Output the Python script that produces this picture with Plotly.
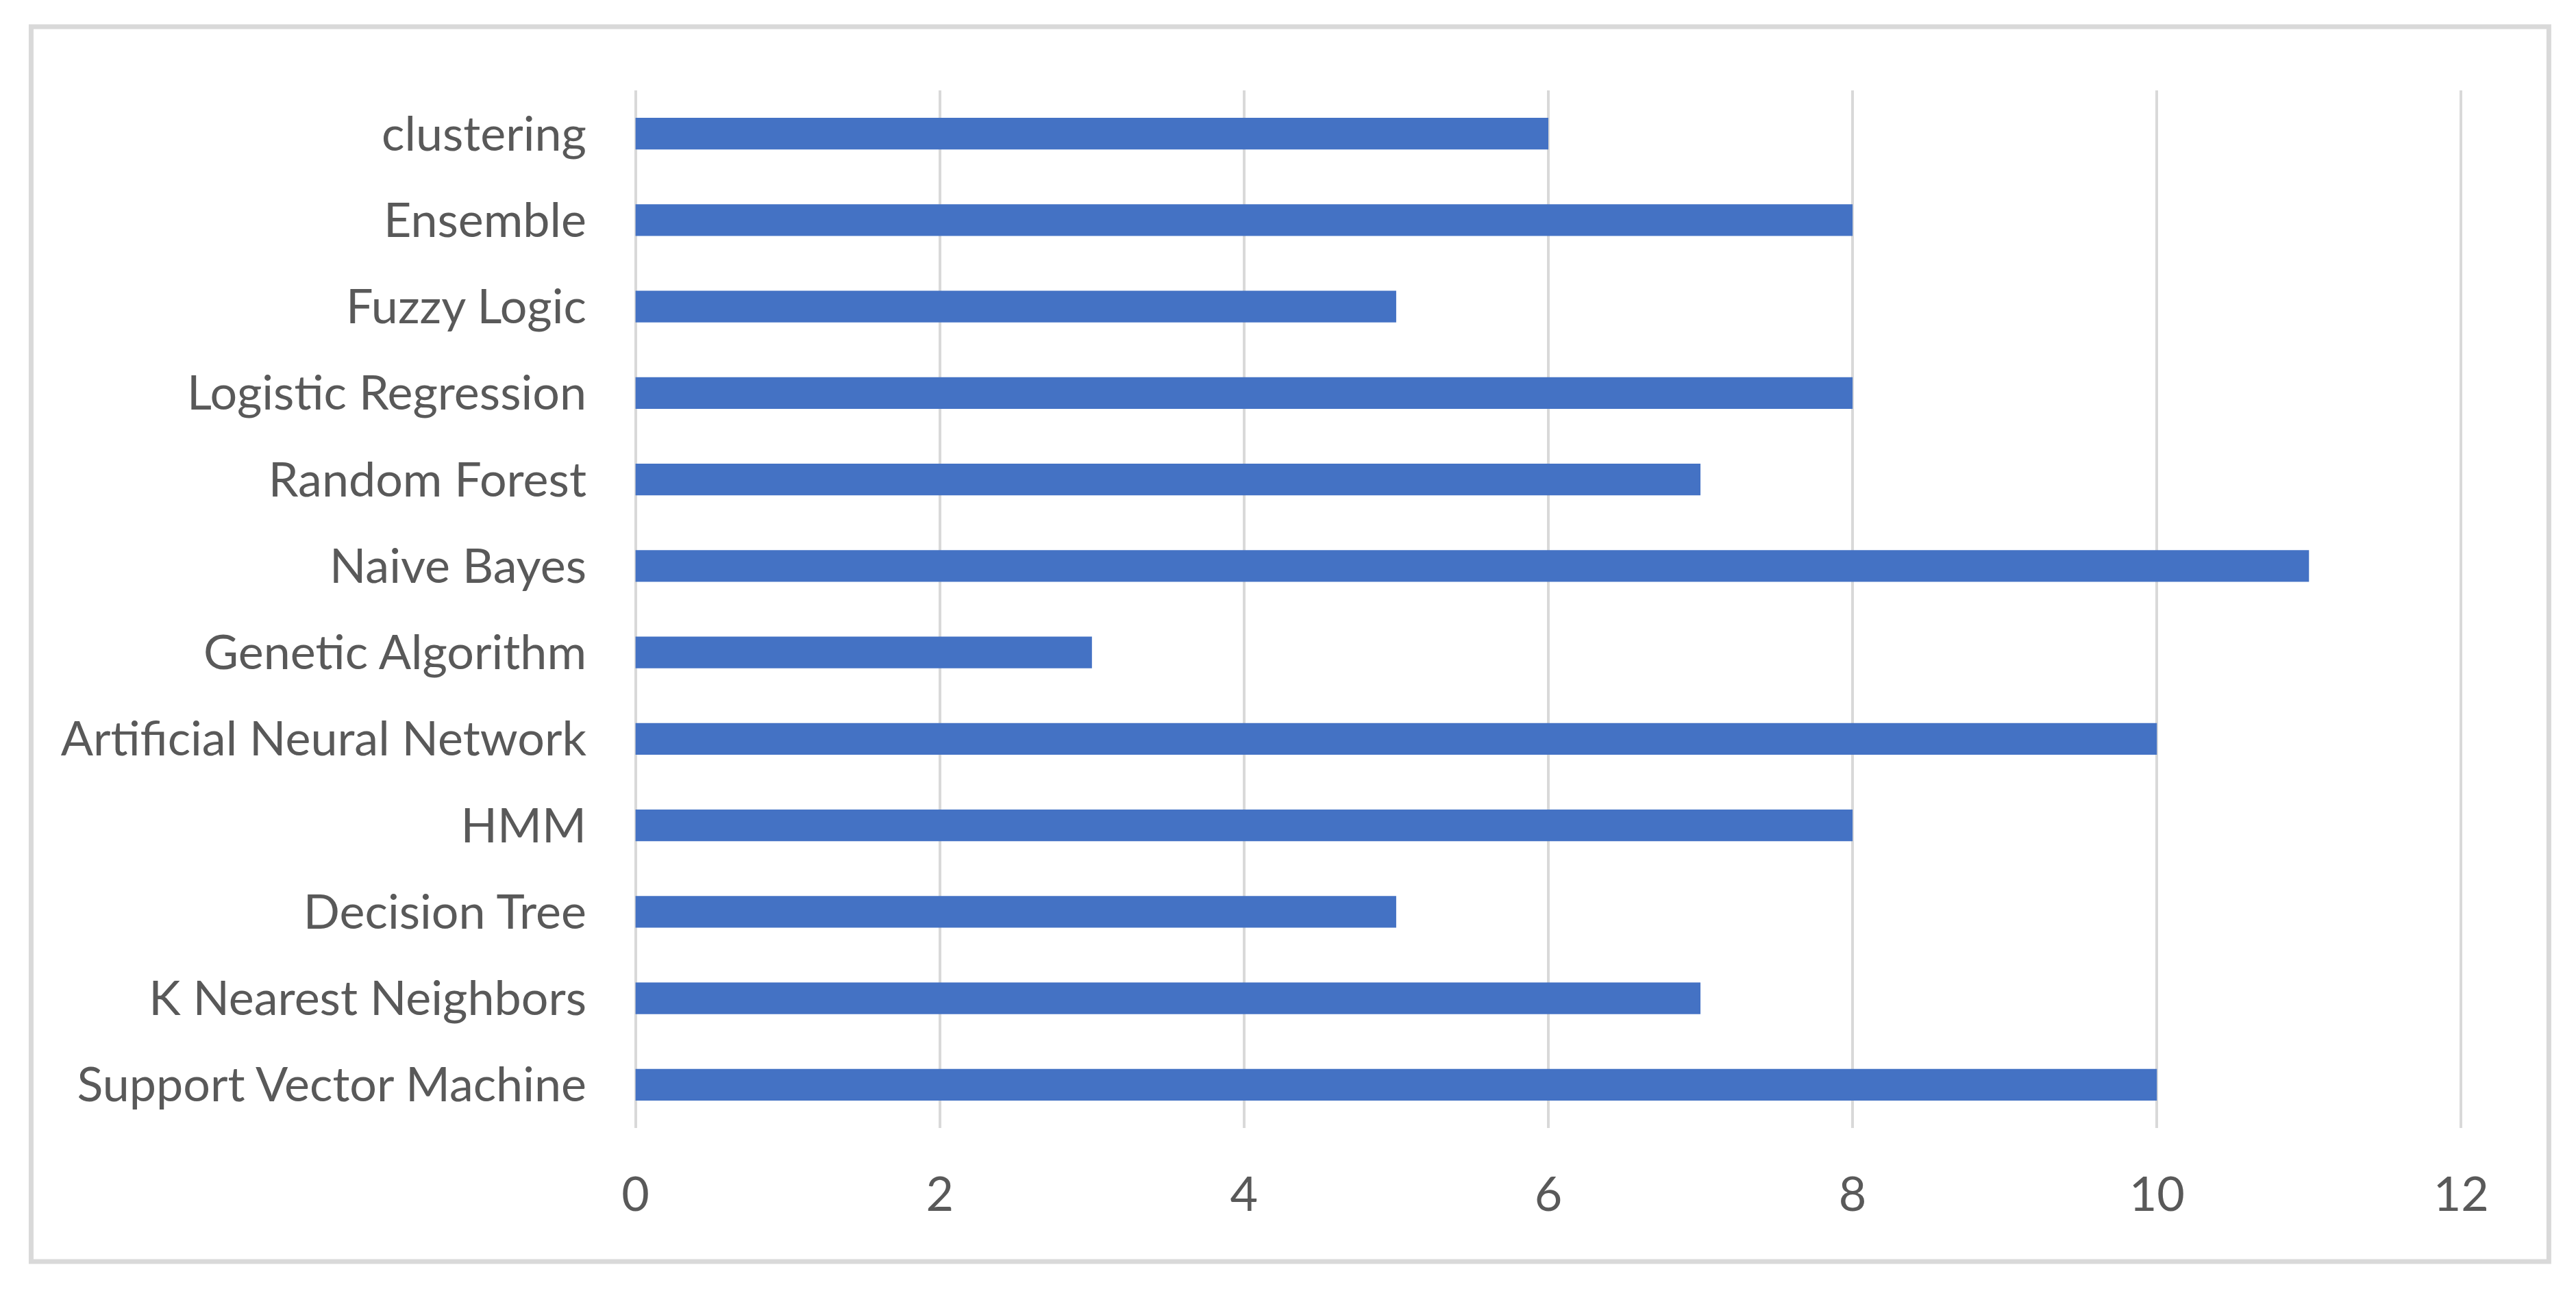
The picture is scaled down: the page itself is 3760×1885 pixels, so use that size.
import plotly.graph_objects as go

categories = ["Support Vector Machine", "K Nearest Neighbors", "Decision Tree", "HMM",
              "Artificial Neural Network", "Genetic Algorithm", "Naive Bayes", "Random Forest",
              "Logistic Regression", "Fuzzy Logic", "Ensemble", "clustering"]
values = [10, 7, 5, 8, 10, 3, 11, 7, 8, 5, 8, 6]
x_ticks = [0, 2, 4, 6, 8, 10, 12]

W, H = 3760, 1885
OFF = 8  # page body margin
X0PX, X12PX = 928 - OFF, 3592 - OFF
T, B = 132 - OFF, 1647 - OFF
PAD = 0.03
upx = (X12PX - X0PX) / 12.0
L = X0PX - PAD * upx
R = X12PX + PAD * upx

fig = go.Figure(go.Bar(
    x=values, y=categories, orientation="h",
    marker=dict(color="#4472C4", line=dict(width=0)),
))

def px_x(p):
    return (p - OFF - L) / (R - L)

def px_y(p):
    return (B - (p - OFF)) / (B - T)

fig.update_layout(
    width=W, height=H,
    margin=dict(l=L, r=W - R, t=T, b=H - B, pad=0),
    paper_bgcolor="white", plot_bgcolor="white",
    bargap=0.635,
    showlegend=False,
    font=dict(family="Lato", color="#595959", size=70),
    xaxis=dict(range=[-PAD, 12 + PAD], tickvals=x_ticks, showgrid=True, gridcolor="#d9d9d9",
               gridwidth=4, zeroline=False, showline=False, ticks="", ticklabelstandoff=50,
               tickfont=dict(size=70, color="#595959")),
    yaxis=dict(categoryorder="array", categoryarray=categories, showgrid=False,
               zeroline=False, showline=False, ticks="", ticklabelstandoff=64,
               tickfont=dict(size=70, color="#595959")),
    shapes=[dict(type="rect", xref="paper", yref="paper",
                 x0=px_x(46), x1=px_x(3720), y0=px_y(1842), y1=px_y(39),
                 line=dict(color="#d9d9d9", width=7), fillcolor="rgba(0,0,0,0)", layer="below")],
)

fig.write_html("out.html")
